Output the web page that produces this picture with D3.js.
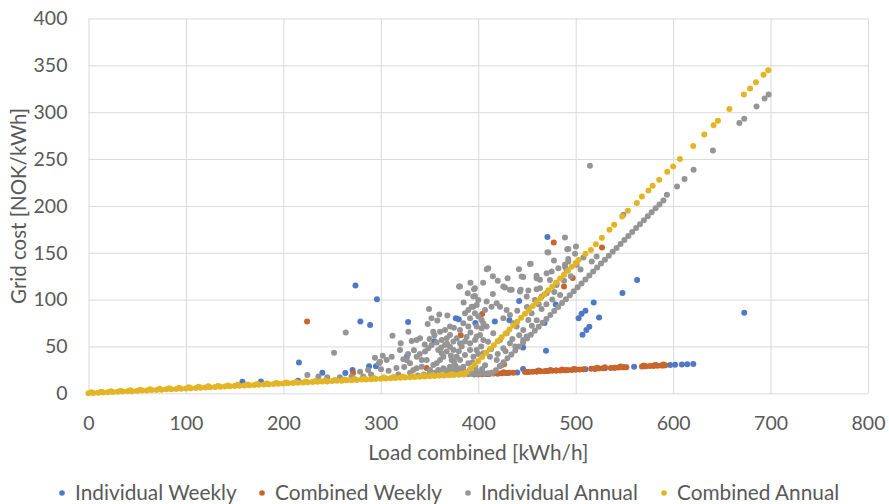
<!DOCTYPE html>
<html>
<head>
<meta charset="utf-8">
<script src="https://cdn.jsdelivr.net/npm/d3@7"></script>
<style>
  body { margin: 0; background: #fff; }
  svg { display: block; font-family: Lato, "Open Sans", sans-serif; }
</style>
</head>
<body>
<svg id="chart" width="889" height="504"></svg>
<script>
// tick values and legend labels
const xTicks = [0, 100, 200, 300, 400, 500, 600, 700, 800];
const yTicks = [0, 50, 100, 150, 200, 250, 300, 350, 400];
const seriesNames = ["Individual Weekly", "Combined Weekly", "Individual Annual", "Combined Annual"];
const seriesColors = ["#4f78c6", "#c9642a", "#959595", "#e3b525"];

// [load kWh/h, grid cost NOK/kWh]
const individualWeekly = [
  [158,12.4],[177,12.6],[215,13.5],[216,33],[240,22],[263.6,21.7],[271,25],[274,115],[279,76.5],[289,73],
  [288,29],[295,29],[296,100.4],[327,39.8],[328,76],[355,55.5],[377,80],[380,79],[397,75],[417,76.5],
  [432,78],[442,98.5],[446,49],[446,26],[468,75],[469.5,45.5],[471,166.7],[479.5,94.7],[503,80],[506,85],
  [510,88],[507,62.6],[511,67.6],[514,71],[518.5,96.8],[524,80.8],[548,107],[563,121],[673,86],
  [400,20.2],[410,20.7],[420,21.2],[430,21.7],[440,22.2],[450,22.7],[460,23.2],[470,23.7],[480,24.2],
  [490,24.7],[500,25.3],[510,25.8],[520,26.3],[530,26.8],[540,27.3],[550,27.8],[560,28.3],[570,28.8],
  [580,29.3],[590,29.8],[597,30.1],[602,30.4],[609,30.8],[614.5,31],[620.7,31.3]
];

const combinedWeekly = [
  [224.3,76.5],[271.5,21.7],[347,27],[382,62],[404,84.5],[426.5,31],[477.5,161],[488,114],[497,123],[527,155.5],
  [396,20.0],[400,20.2],[404,20.4],[408,20.6],[412,20.8],[416,21.0],[420,21.2],[424,21.4],[428,21.6],[432,21.8],
  [436,22.0],[448,22.6],[452,22.8],[456,23.0],[460,23.2],[464,23.4],[468,23.6],[472,23.8],[476,24.0],[480,24.2],
  [484,24.4],[488,24.6],[492,24.8],[496,25.0],[500,25.3],[504,25.5],[508,25.7],[516,26.1],[520,26.3],[524,26.5],
  [528,26.7],[536,27.1],[540,27.3],[544,27.5],[548,27.7],[552,27.9],[568,28.7],[572,28.9],[576,29.1],[580,29.3],
  [584,29.5],[588,29.7],[592,29.9],
  [402,21.2],[414,21.8],[426,22.4],[462,24.2],[474,24.8],[486,25.4],[498,26.0],[522,27.3],[530,27.7],[546,28.5],
  [570,29.7],[582,30.3],[590,30.7]
];

const individualAnnual = [
  // low segment
  [390,20.3],[394,20.5],[398,20.7],[402,20.9],[406,21.1],[410,21.3],[414,21.5],
  // steep segment
  [418,24.7],[422,28.9],[426,33.1],[430,37.3],[434,41.5],[438,45.7],[442,49.9],[446,54.1],[450,58.4],[454,62.6],
  [458,66.8],[462,71.0],[466,75.2],[470,79.4],[474,83.6],[478,87.8],[482,92.1],[486,96.3],[490,100.5],[494,104.7],
  [498,108.9],[502,113.1],[506,117.3],[510,121.5],[514,125.7],[518,130.0],[522,134.2],[526,138.4],[530,142.6],
  [534,146.8],[538,151.0],[542,155.2],[546,159.4],[550,163.7],[554,167.9],[558,172.1],[562,176.3],[566,180.5],
  [570,184.7],[574,188.9],[578,193.1],[582,197.4],[586,201.6],[590,205.8],
  [593.6,211.9],[604,220.7],[611.7,228.6],[621,238.6],[640.8,259],[668,288.5],[673,293],[685.6,306.2],
  [693.8,314.7],[698,319],
  // scattered
  [224.6,19.5],[252,43.4],[264,65],[287,25],[298,32],[306,35.6],[312,61.5],[318,20],[330,22],[338,19],
  [355,22],[366,21],[372,23],[378,22],[384,24],
  [380.3,113.9],[389.2,106.8],[395.7,111.1],[396.7,103.9],[408.7,132.4],[349.5,90.1],[368.3,83],[358,77.6],
  [348.1,74],[386.4,85.4],[389.8,89],[395,92.5],[398.4,94.3],[391.6,80.1],[400.1,81.9],[403.5,78.3],[384.7,74.7],
  [389.8,71.2],[381.3,67.6],[371,71.2],[365.9,67.6],[360.8,65.8],[353.9,65.8],[340.2,58.7],[336.8,56.9],
  [331.7,55.9],[328.3,65.8],[320.4,53.4],[319.7,46.3],[311.2,39.1],[299.2,33.8],[300.2,25.6],
  [278.7,23.1],[323.1,36.3],[326.6,35.6],[330,32],[336.8,39.1],[342,35.6],[345.4,44.5],[348.8,48],[352.2,51.6],
  [357.3,54.1],[362.5,56.9],[367.6,58.7],[371,62.3],[374.5,55.2],[377.9,58.7],[381.3,53.4],[386.4,55.2],
  [391.6,53.4],[396.7,56.9],[401.8,62.3],[403.5,69.4],[405.2,74.7],[398.4,71.2],[371,49.8],[367.6,44.5],
  [364.2,39.1],[360.8,35.6],[357.3,32],[353.9,30.2],[350.5,24.9],[342,28.4],[336.8,26.7],[333.4,24.9],
  [347.1,35.6],[374.5,46.3],[377.9,39.1],[381.3,35.6],[386.4,40.9],[391.6,46.3],[395,39.1],[389.8,32],
  [384.7,28.4],[379.6,26.7],[371,28.4],[364.2,26.7],[359,24.9],[362.5,42.7],[359,46.3],[365.9,51.6],
  [372.7,35.6],[376.2,30.2],[369.3,24.9],[391.6,24.9],[396.7,28.4],
  [410.3,133.5],[425.7,113.9],[432.5,110.4],[453.1,138.1],[444.5,124.6],[459.9,122.8],[463.3,112.1],
  [470.2,128.2],[475.3,129.9],[482.2,133.5],[489,137.1],[492.4,140.6],[473.6,121],[480.4,115.7],[396.6,112.1],
  [394.9,103.2],[400,99.7],[408.6,97.9],[413.7,92.5],[418.9,96.1],[422.3,92.5],[406.9,89],[396.6,85.4],
  [393.2,92.5],[429.1,89],[432.5,83.6],[425.7,80.1],[436,74.7],[439.4,71.2],[446.2,67.6],[451.4,78.3],
  [454.8,85.4],[458.2,99.7],[465.1,103.2],[470.2,106.8],[449.7,103.2],[442.8,108.6],[408.6,71.2],[415.4,64.1],
  [405.2,56.9],[398.3,60.5],[422.3,56.9],[425.7,48],[432.5,53.4],[429.1,64.1],[412,39.1],[418.9,35.6],
  [405.2,42.7],[398.3,46.3],[449.7,60.5],[446.2,56.9],
  [489,166.3],[500.3,156.7],[471.9,150.3],[477.7,141.8],[492.4,153.9],[499.3,148.9],[492.4,143.2],[489,135.3],
  [501,137.1],[430.1,122.9],[441.8,132.5],[453.8,138.2],[446.2,124],[459.9,125.4],[463.3,121.1],
  [381.2,114],[427.4,112.9],[434.3,110.4],[443.5,110.4],[451.4,109.7],[459.9,111.1],[480.4,117.5],
  [490.7,131.8],[516.4,140.7],[521.5,146],[548.9,190.5],[514.6,242.9],[471,150.6],[491.4,153.8],
  [345,52],[350,58],[355,62],[362,49],[368,53],[372,40],[375,34],[380,45],[383,50],[388,60],[392,65],[394,33],
  [400,42],[403,50],[407,30],[410,55],[413,47],[340,42],[334,46],[328,42],[324,28],[316,27],[308,24],[302,40],
  [294,38],[290,20],[282,18],[270,18],[258,17],[245,17],[236,18],[344,20],[350,21],[362,24],[376,25],[386,23],
  [398,24],[404,26],[420,42],[424,30],[428,45],[435,58],[438,50],[442,62],[455,72],[460,78],[465,90],[470,95],
  [476,100],[484,105],[488,120],[495,125],[505,132],[508,145],[478,108],[462,95],[450,92],[440,88],[415,106],
  [420,120],[375,70],[360,84],[352,80],[385,97],[392,118],[405,118],[415,125]
];

const combinedAnnual = [
  // low segment
  [0,0],[5,0.3],[10,0.5],[15,0.8],[20,1.0],[25,1.3],[30,1.6],[35,1.8],[40,2.1],[45,2.3],[50,2.6],[55,2.9],
  [60,3.1],[65,3.4],[70,3.6],[75,3.9],[80,4.2],[85,4.4],[90,4.7],[95,4.9],[100,5.2],[105,5.5],[110,5.7],
  [115,6.0],[120,6.2],[125,6.5],[130,6.8],[135,7.0],[140,7.3],[145,7.5],[150,7.8],[155,8.1],[160,8.3],
  [165,8.6],[170,8.8],[175,9.1],[180,9.4],[185,9.6],[190,9.9],[195,10.1],[200,10.4],[205,10.7],[210,10.9],
  [215,11.2],[220,11.4],[225,11.7],[230,12.0],[235,12.2],[240,12.5],[245,12.7],[250,13.0],[255,13.3],
  [260,13.5],[265,13.8],[270,14.0],[275,14.3],[280,14.6],[285,14.8],[290,15.1],[295,15.3],[300,15.6],
  [305,15.9],[310,16.1],[315,16.4],[320,16.6],[325,16.9],[330,17.2],[335,17.4],[340,17.7],[345,17.9],
  [350,18.2],[355,18.5],[360,18.7],[365,19.0],[370,19.2],[375,19.5],[380,19.8],[385,20.0],
  // upper edge of the low band
  [3,1.2],[13,1.7],[23,2.2],[33,2.7],[43,3.2],[53,3.8],[63,4.3],[73,4.8],[83,5.3],[93,5.8],[103,6.4],
  [113,6.9],[123,7.4],[133,7.9],[143,8.4],[153,9.0],[163,9.5],[173,10.0],[183,10.5],[193,11.0],[203,11.6],
  [213,12.1],[223,12.6],[233,13.1],[243,13.6],[253,14.2],[263,14.7],[273,15.2],[283,15.7],[293,16.2],
  [303,16.8],[313,17.3],[323,17.8],[333,18.3],[343,18.8],[353,19.4],[363,19.9],[373,20.4],[383,20.9],
  // steep segment
  [388,22.1],[392,26.3],[396,30.5],[400,34.6],[404,38.8],[408,43.0],[412,47.2],[416,51.4],[420,55.5],
  [424,59.7],[428,63.9],[432,68.1],[436,72.3],[440,76.4],[444,80.6],[448,84.8],[452,89.0],[456,93.2],
  [460,97.3],[464,101.5],[468,105.7],[472,109.9],[476,114.1],[480,118.2],[484,122.4],[488,126.6],
  [492,130.8],[496,135.0],[500,139.1],[503,142.3],
  [510,148.8],[515.6,153],[520.7,159],[526.9,166],[534.7,174.5],[539.5,179.8],[547.7,188.7],[553.5,194.8],
  [562.8,203],[568,210],[574.7,216.5],[579,221.5],[585.7,228],[594,236.4],[600,242],[607,250],[620.6,264],
  [632,276.3],[641.5,286],[646,291],[657.7,303.4],[672.6,319],[679,325.4],[685,332],[692.8,340],[697.6,344.7]
];

const allSeries = [individualWeekly, combinedWeekly, individualAnnual, combinedAnnual];

const svg = d3.select("#chart");
const plotLeft = 88.5, plotRight = 868, plotTop = 18.5, plotBottom = 393.3;
const textColor = "#595959";
const gridColor = "#d9d9d9";

const x = d3.scaleLinear().domain([0, 800]).range([plotLeft, plotRight]);
const y = d3.scaleLinear().domain([0, 400]).range([plotBottom, plotTop]);

// horizontal grid + y labels
const yAxis = svg.append("g")
  .attr("transform", "translate(" + plotLeft + ",0)")
  .call(d3.axisLeft(y).tickValues(yTicks).tickSize(-(plotRight - plotLeft)).tickPadding(21));
yAxis.select(".domain").remove();
yAxis.selectAll("line").attr("stroke", gridColor);
yAxis.selectAll("text").attr("fill", textColor).style("font-size", "19.5px").style("font-family", "Lato");

// vertical grid + x labels
const xAxis = svg.append("g")
  .attr("transform", "translate(0," + plotBottom + ")")
  .call(d3.axisBottom(x).tickValues(xTicks).tickSize(-(plotBottom - plotTop)));
xAxis.select(".domain").remove();
xAxis.selectAll("line").attr("stroke", gridColor);
xAxis.selectAll("text").attr("y", 37).attr("dy", null)
  .attr("fill", textColor).style("font-size", "19.5px").style("font-family", "Lato");

// points, later series on top
allSeries.forEach(function(data, i) {
  svg.append("g").selectAll("circle")
    .data(data)
    .join("circle")
    .attr("cx", d => x(d[0]))
    .attr("cy", d => y(d[1]))
    .attr("r", 3)
    .attr("fill", seriesColors[i]);
});

// axis titles
svg.append("text")
  .attr("transform", "translate(26," + ((plotTop + plotBottom) / 2) + ") rotate(-90)")
  .attr("text-anchor", "middle")
  .attr("fill", textColor)
  .style("font-size", "20.5px")
  .text("Grid cost [NOK/kWh]");

svg.append("text")
  .attr("x", (plotLeft + plotRight) / 2)
  .attr("y", 460)
  .attr("text-anchor", "middle")
  .attr("fill", textColor)
  .style("font-size", "20.8px")
  .text("Load combined [kWh/h]");

// legend
const legendX = [62, 262, 468, 664];
const legend = svg.append("g").selectAll("g")
  .data(seriesNames)
  .join("g")
  .attr("transform", (d, i) => "translate(" + legendX[i] + ",493)");
legend.append("circle").attr("r", 2.8).attr("fill", (d, i) => seriesColors[i]);
legend.append("text")
  .attr("x", 13)
  .attr("y", 7)
  .attr("fill", textColor)
  .style("font-size", "20.8px")
  .text(d => d);
</script>
</body>
</html>
